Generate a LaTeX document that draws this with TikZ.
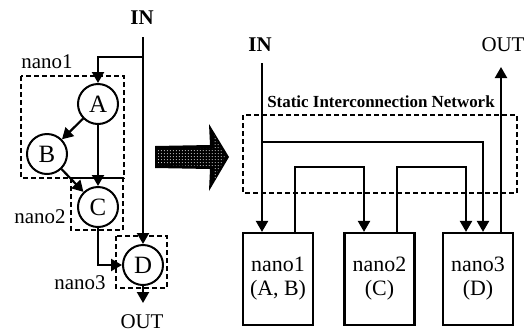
\documentclass[tikz,border=0pt]{standalone}
\usepackage{fontspec}
\setmainfont{Liberation Serif}
\usetikzlibrary{arrows.meta,patterns}
\begin{document}
\begin{tikzpicture}[x=1bp,y=-1bp,
  txt/.style={font=\fontsize{21}{22}\selectfont, inner sep=0pt},
  btxt/.style={font=\fontsize{21}{22}\selectfont\bfseries, inner sep=0pt},
  circ/.style={circle, draw, line width=2bp, minimum size=40bp, inner sep=0pt, font=\fontsize{25}{25}\selectfont},
  dbox/.style={draw, line width=1.4bp, dash pattern=on 5bp off 3bp},
  pbox/.style={draw, line width=2.2bp, minimum width=70bp, minimum height=92bp, align=center, font=\fontsize{22}{24}\selectfont, inner sep=0pt},
  conn/.style={line width=2.2bp},
  arr/.style={conn, -{Triangle[length=11bp,width=12bp]}},
]
\useasboundingbox (0,0) rectangle (525,333);

% ---------- left: task graph ----------
\node[btxt] (inL) at (142,18) {IN};
\node[circ] (A) at (98,104) {A};
\node[circ] (B) at (47,154) {B};
\node[circ] (C) at (98,207) {C};
\node[circ] (D) at (143,265) {D};
\draw[dbox] (21,76) rectangle (124,178);
\draw[dbox] (71,178) rectangle (123,230);
\draw[dbox] (116,236) rectangle (167,288);
\node[txt] (l1) at (47,62) {nano1};
\node[txt] (l2) at (40,217) {nano2};
\node[txt] (l3) at (80,283) {nano3};
\node[txt] (outL) at (142,322) {OUT};

\coordinate (inLs) at (143,37);
\coordinate (br) at (143,57);
\coordinate (outLe) at (143,303);
\draw[arr] (inLs) -- (D.north);
\draw[arr] (br) -| (A.north);
\draw[arr] (A) -- (B);
\draw[arr] (A.south) -- (C.north);
\draw[arr] (B) -- (C);
\draw[arr] (C.south) |- (D.west);
\draw[arr] (D.south) -- (outLe);

% ---------- big arrow ----------
\fill[black] (155,146) -- (210,145) -- (209,124) -- (229,157) -- (209,191) -- (210,169) -- (155,168) -- cycle;
\fill[pattern=dots, pattern color=white] (158,149) -- (213,148) -- (213,132) -- (225,157) -- (213,183) -- (213,166) -- (158,165) -- cycle;

% ---------- right: mapping ----------
\node[btxt] (inR) at (260,45) {IN};
\node[txt] (outR) at (503,45) {OUT};
\node[font=\fontsize{17}{18}\selectfont\bfseries, inner sep=0pt] (sin) at (381,102) {Static Interconnection Network};
\draw[dbox] (243,115) rectangle (517,193);
\node[pbox] (n1) at (278,279) {nano1\\(A, B)};
\node[pbox] (n2) at (379.5,279) {nano2\\(C)};
\node[pbox] (n3) at (478,279) {nano3\\(D)};

\coordinate (inRs) at (262,63);
\coordinate (h1) at (262,142);
\coordinate (h2) at (483,142);
\coordinate (x1) at (295,167);
\coordinate (x2) at (364,167);
\coordinate (x3) at (397,167);
\coordinate (x4) at (466,167);
\coordinate (ot) at (501,67);
\draw[arr] (inRs) -- (n1.north -| inRs);
\draw[arr] (h1) -- (h2) -- (n3.north -| h2);
\draw[arr] (n1.north -| x1) -- (x1) -- (x2) -- (n2.north -| x2);
\draw[arr] (n2.north -| x3) -- (x3) -- (x4) -- (n3.north -| x4);
\draw[arr] (n3.north -| ot) -- (ot);
\end{tikzpicture}
\end{document}
